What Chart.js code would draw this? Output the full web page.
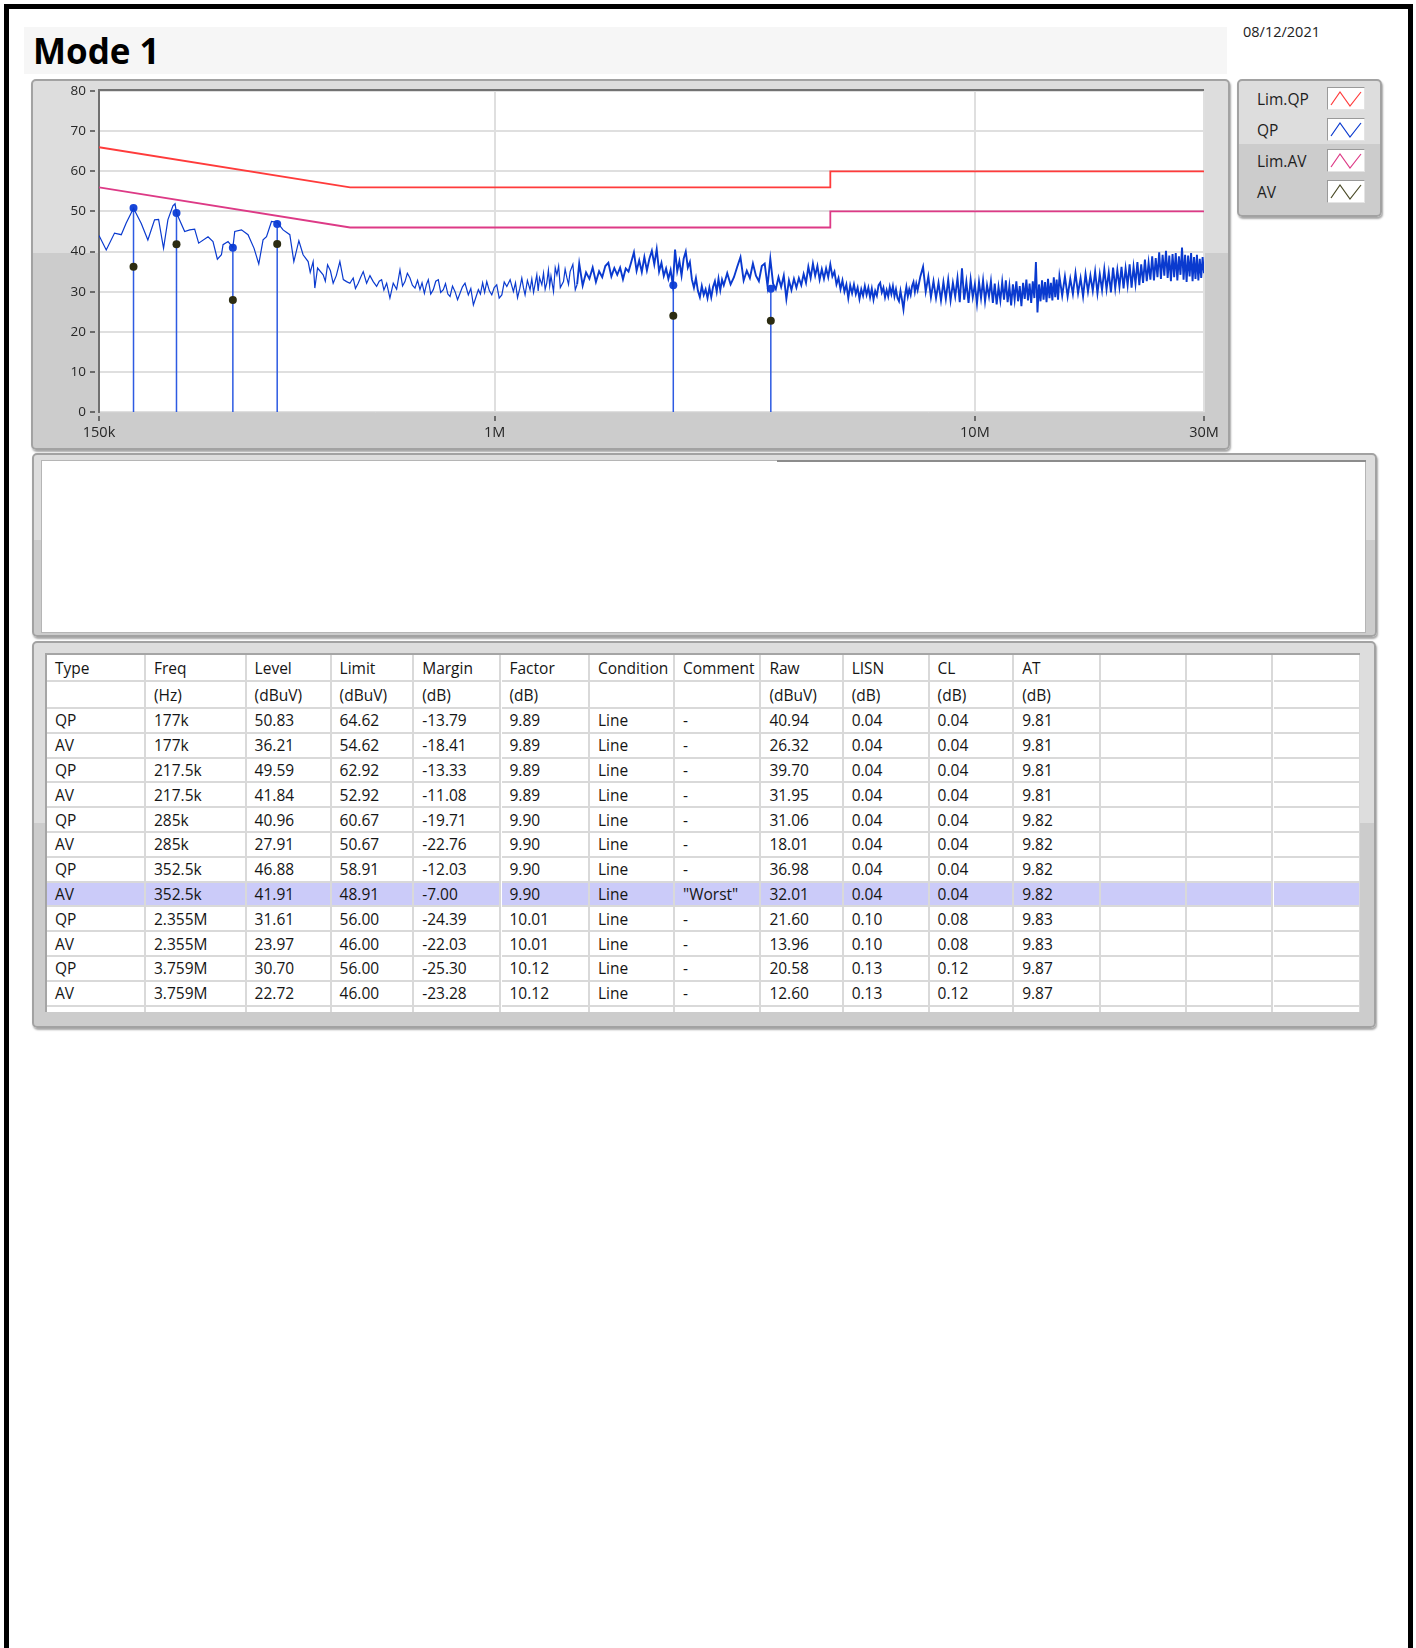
<!DOCTYPE html>
<html>
<head>
<meta charset="utf-8">
<script src="https://cdn.jsdelivr.net/npm/chart.js@4/dist/chart.umd.min.js"></script>
<style>
body { margin:0; background:#fff; font-family:'Open Sans', sans-serif; color:#151515; }
#page { position:relative; width:1416px; height:1648px; overflow:hidden; }
#frame { position:absolute; left:4px; top:4px; width:1399px; height:1700px; border:5px solid #000; border-bottom:none; }
#titleBox { position:absolute; left:24px; top:27px; width:1203px; height:47px; background:#f6f6f6; }
#title { position:absolute; left:33px; top:27px; font-size:35px; font-weight:700; color:#000; white-space:nowrap; }
#date { position:absolute; left:1243px; top:22px; font-size:14.5px; color:#222; }
.panel { position:absolute; box-sizing:border-box; border:2px solid #a2a2a2; border-radius:5px;
  background:linear-gradient(to bottom,#dddddd 0,#dddddd 47%,#cccccc 47%,#cccccc 100%);
  box-shadow:1px 2px 2px rgba(0,0,0,0.35); }
#chartCanvas { position:absolute; left:31px; top:79px; }
.leg { position:absolute; font-size:15.5px; color:#1e1e1e; white-space:nowrap; }
.legIcon { position:absolute; width:38px; height:23px; box-sizing:border-box; background:#fff;
  border:1px solid #9a9a9a; border-right-color:#e4e4e4; border-bottom-color:#e4e4e4; }
#tableInner { position:absolute; left:45px; top:653px; width:1315px; height:359px; box-sizing:border-box;
  background:#fff; border-top:2px solid #a5a5a5; border-left:2px solid #a5a5a5; overflow:hidden; }
.cell { position:absolute; box-sizing:border-box; border-right:2px solid #d9d9d9; border-bottom:2px solid #d9d9d9;
  padding-left:8px; font-size:15.5px; white-space:nowrap; overflow:hidden; display:flex; align-items:center; }
</style>
</head>
<body>
<div id="page">
  <div id="frame"></div>
  <div id="titleBox"></div>
  <div id="title">Mode 1</div>
  <div id="date">08/12/2021</div>

  <div class="panel" style="left:31px;top:79px;width:1199px;height:371px;"></div>
  <canvas id="chartCanvas" width="1199" height="371"></canvas>

  <div class="panel" id="legendPanel" style="left:1237px;top:79px;width:145px;height:138px;"></div>

  <div class="panel" style="left:32px;top:453px;width:1345px;height:184px;"></div>
  <div style="position:absolute;left:41px;top:460px;width:1325px;height:173px;background:#fff;box-sizing:border-box;border:1px solid #b5b5b5;"></div>
  <div style="position:absolute;left:777px;top:460px;width:589px;height:2px;background:#8c8c8c;"></div>

  <div class="panel" style="left:32px;top:641px;width:1344px;height:387px;"></div>
  <div id="tableInner"></div>
</div>

<script>
// axis ticks
var tickValues = [150000, 1000000, 10000000, 30000000];
var tickLabels = ['150k', '1M', '10M', '30M'];

// limit lines (Hz, dBuV)
var limitFreqs = [150000, 500000, 5000000, 5000000, 30000000];
var limQPLevels = [66, 56, 56, 60, 60];
var limAVLevels = [56, 46, 46, 50, 50];

// final measurements
var markFreqsHz = [177000, 217500, 285000, 352500, 2355000, 3759000];
var markFreqLabels = ['177k', '217.5k', '285k', '352.5k', '2.355M', '3.759M'];
var qpLevels = [50.83, 49.59, 40.96, 46.88, 31.61, 30.70];
var avLevels = [36.21, 41.84, 27.91, 41.91, 23.97, 22.72];
var qpLimits = [64.62, 62.92, 60.67, 58.91, 56.00, 56.00];
var avLimits = [54.62, 52.92, 50.67, 48.91, 46.00, 46.00];
var qpMargins = [-13.79, -13.33, -19.71, -12.03, -24.39, -25.30];
var avMargins = [-18.41, -11.08, -22.76, -7.00, -22.03, -23.28];
var factors = [9.89, 9.89, 9.90, 9.90, 10.01, 10.12];
var conditions = ['Line', 'Line', 'Line', 'Line', 'Line', 'Line'];
var qpComments = ['-', '-', '-', '-', '-', '-'];
var avComments = ['-', '-', '-', '"Worst"', '-', '-'];
var qpRaws = [40.94, 39.70, 31.06, 36.98, 21.60, 20.58];
var avRaws = [26.32, 31.95, 18.01, 32.01, 13.96, 12.60];
var lisnLoss = [0.04, 0.04, 0.04, 0.04, 0.10, 0.13];
var cableLoss = [0.04, 0.04, 0.04, 0.04, 0.08, 0.12];
var attenuator = [9.81, 9.81, 9.82, 9.82, 9.83, 9.87];

var colHeads = ['Type', 'Freq', 'Level', 'Limit', 'Margin', 'Factor', 'Condition', 'Comment', 'Raw', 'LISN', 'CL', 'AT', '', '', ''];
var colUnits = ['', '(Hz)', '(dBuV)', '(dBuV)', '(dB)', '(dB)', '', '', '(dBuV)', '(dB)', '(dB)', '(dB)', '', '', ''];

// QP scan trace, frequency in kHz
var scanKHz = [
  150,155.3,161.6,166.9,170.9,177,183.7,189.6,195.8,199.6,
  204.4,208.7,213.8,216,217.5,226.2,231.7,237.3,241.9,253,
  259.1,264.6,269.8,271.9,278.5,285,287.6,297,306.5,315.5,
  322.7,329.4,334.9,343,352.5,362.6,374.5,381.8,391.1,
  399.1,408.9,413,418.8,422.2,427.8,439.4,444,448.8,455,
  461,468,476.1,484,491.6,499.5,507.5,513,519.8,526,
  532.5,541.2,550,558.6,567.8,575,581.6,588,595.8,605.2,
  614.9,625,635.1,643,650.5,658,666.3,674,682.5,691,
  699,706,714,721,727.5,736,745.1,754,763.3,772,
  781.8,790,799,807.4,817,827,837,847,857,867.5,
  881.4,892,903,914,924.9,934,944,953,962.9,975,
  986.3,998,1010,1022,1035,1047,1060,1077,1094,1105,
  1116,1128,1139,1148,1157,1170,1185,1195,1205,1224,
  1232,1240,1254,1264,1274,1284,1294,1302,1310,1326,
  1337,1348,1359,1370,1391,1402,1413,1425,1436,1455,
  1463,1472,1485,
  1500,1525,1550,1575,1600,1625,1650,1675,1700,1725,
  1750,1775,1800,1825,1850,1875,1900,1925,1950,1975,
  2000,2025,2050,2075,2100,2125,2150,2175,2200,2225,
  2250,2275,2300,2325,2350,2375,2400,2425,2450,2475,
  2500,2525,2550,2575,2600,2625,2650,2675,2700,2725,
  2750,2775,2800,2825,2850,2875,2900,2925,2950,2975,
  3000,
  3050,3100,3150,3200,3250,3300,3350,3400,3450,3500,
  3550,3600,3650,3700,3750,3800,3850,3900,3950,4000,
  4050,4100,4150,4200,4250,4300,4350,4400,4450,4500,
  4550,4600,4650,4700,4750,4800,4850,4900,4950,5000,
  5050,5100,5150,5200,5250,5300,5350,5400,5450,5500,
  5550,5600,5650,5700,5750,5800,5850,5900,5950,6000,
  6050,6100,6150,6200,6250,6300,6350,6400,6450,6500,
  6550,6600,6650,6700,6750,6800,6850,6900,6950,7000,
  7050,7100,7150,7200,7250,7300,7350,7400,7450,7500,
  7550,7600,
  7700,7800,7900,8000,8100,8200,8300,8400,8500,8600,
  8700,8800,8900,9000,9100,9200,9300,9400,9500,9600,
  9700,9800,9900,10000,10100,10200,10300,10400,10500,10600,
  10700,10800,10900,11000,11100,11200,11300,11400,11500,11600,
  11700,11800,11900,12000,12100,12200,12300,12400,12500,12600,
  12700,12800,12900,13000,13100,13200,13300,13400,13500,13600,
  13700,13800,13900,14000,14100,14200,14300,14400,14500,14600,
  14700,14800,14900,15000,
  15200,15400,15600,15800,16000,16200,16400,16600,16800,17000,
  17200,17400,17600,17800,18000,18200,18400,18600,18800,19000,
  19200,19400,19600,19800,20000,20200,20400,20600,20800,21000,
  21200,21400,21600,21800,22000,22200,22400,22600,22800,23000,
  23200,23400,23600,23800,24000,24200,24400,24600,24800,25000,
  25200,25400,25600,25800,26000,26200,26400,26600,26800,27000,
  27200,27400,27600,27800,28000,28200,28400,28600,28800,29000,
  29200,29400,29600,29800,30000
];
var scanQP = [
  44.0,40.4,44.6,44.2,47.1,50.8,47.0,42.9,47.9,48.0,
  40.8,47.9,51.4,51.9,49.6,45.0,45.4,45.6,42.1,43.7,
  42.5,38.1,39.2,41.7,42.5,41.0,45.0,45.4,44.2,40.8,
  36.9,42.9,43.7,47.5,47.3,45.4,44.2,37.5,42.7,
  39.2,37.5,34.8,37.5,30.9,35.9,34.2,32.6,36.7,35.2,
  32.1,34.0,37.5,33.0,32.5,32.1,33.4,30.8,32.1,33.6,
  35.0,32.1,34.0,32.5,31.3,32.6,33.0,30.4,32.1,28.4,
  32.1,30.6,35.4,31.4,32.5,34.6,33.4,31.6,30.9,32.8,
  30.5,32.2,29.6,31.8,33.0,29.4,30.5,32.6,33.0,29.8,
  30.5,32.0,29.4,28.8,31.4,30.0,28.0,29.6,31.2,32.1,
  29.2,30.8,26.7,28.6,30.5,29.4,32.2,29.8,32.5,30.2,
  29.2,31.0,31.7,28.4,29.2,32.4,31.3,33.0,30.0,32.2,
  28.5,30.8,33.4,31.0,29.2,32.8,30.5,33.2,29.8,34.2,
  30.2,33.5,31.7,34.6,30.6,32.2,35.4,31.4,33.9,30.0,
  36.0,34.2,36.4,31.0,32.5,35.6,33.6,31.8,35.0,36.8,
  33.6,30.5,31.8,
  37.0,31.5,34.8,33.2,36.0,32.4,35.1,33.6,36.4,37.2,
  33.8,35.9,34.2,36.0,33.1,35.8,35.0,37.4,39.8,35.2,
  37.8,34.9,38.6,35.3,38.2,40.2,36.8,40.6,35.0,37.2,
  33.9,35.8,33.2,35.4,31.6,40.5,35.1,37.6,34.0,38.2,
  40.0,36.0,37.4,33.0,31.0,33.4,30.2,28.6,31.4,29.2,
  30.6,28.4,31.0,28.6,31.2,32.6,30.0,33.2,30.4,33.0,
  31.6,
  34.6,31.8,33.6,36.2,38.6,32.8,35.2,33.4,37.0,34.0,
  32.6,36.4,37.0,31.4,38.2,32.0,30.6,33.6,31.2,34.0,
  28.2,32.8,30.4,33.2,31.0,33.4,31.6,34.4,32.2,36.2,
  33.4,37.0,34.0,36.4,33.0,35.6,33.2,35.8,33.6,36.8,
  33.8,35.0,31.8,33.4,30.6,32.8,30.0,31.8,28.4,31.6,
  29.6,31.8,29.4,31.0,28.2,30.6,29.0,31.4,29.2,31.0,
  28.6,30.8,28.0,30.2,29.0,31.6,32.2,29.8,31.0,28.6,
  30.4,28.8,31.2,29.4,31.4,28.8,30.6,28.4,27.6,30.2,
  28.0,25.6,29.0,31.2,28.8,30.6,29.2,31.4,32.4,30.0,
  32.0,30.4,
  33.8,36.2,30.0,33.8,28.6,32.6,28.4,32.2,27.8,32.4,
  28.2,33.0,27.8,32.2,28.8,33.4,27.4,35.8,28.0,32.4,
  27.2,33.0,28.6,31.8,27.0,32.4,28.4,32.8,27.6,31.6,
  28.8,32.6,27.2,32.0,26.8,31.2,27.8,32.4,28.0,32.8,
  27.4,31.4,26.6,31.8,28.0,32.6,27.6,31.4,26.4,32.2,
  28.2,33.0,27.8,32.0,27.2,32.6,28.4,37.4,24.8,31.8,
  27.6,32.8,28.0,32.4,27.4,33.2,28.4,32.2,27.8,33.6,
  28.6,33.0,28.0,33.8,
  29.0,33.8,28.8,33.2,29.4,34.6,29.6,33.4,28.8,34.4,
  30.0,34.0,30.2,35.0,29.6,34.4,30.4,35.6,30.6,34.8,
  29.8,36.0,30.8,35.4,31.2,36.2,30.8,35.8,31.6,36.8,
  31.0,36.2,32.0,37.4,31.6,36.8,32.2,38.0,32.6,37.2,
  33.0,38.8,32.8,38.4,33.6,39.8,33.2,39.2,34.0,40.2,
  33.4,39.0,32.6,39.4,33.6,39.6,32.8,38.8,34.2,41.0,
  33.0,39.2,32.4,39.0,33.8,39.6,32.6,38.6,33.2,39.2,
  32.8,38.2,33.4,38.6,34.6
];

var legendOrder = ['Lim.QP', 'QP', 'Lim.AV', 'AV'];

// datasets
var traceData = scanKHz.map(function (f, i) { return { x: f * 1000, y: scanQP[i] }; });
var stemData = [];
markFreqsHz.forEach(function (f, i) {
  stemData.push({ x: f, y: 0 }, { x: f, y: qpLevels[i] }, { x: f, y: null });
});

var plotFrame = {
  id: 'plotFrame',
  beforeDraw: function (chart) {
    var a = chart.chartArea, ctx = chart.ctx;
    ctx.save();
    ctx.fillStyle = '#ffffff';
    ctx.fillRect(a.left, a.top, a.right - a.left, a.bottom - a.top);
    ctx.restore();
  },
  afterDraw: function (chart) {
    var a = chart.chartArea, ctx = chart.ctx;
    ctx.save();
    ctx.strokeStyle = '#727272';
    ctx.lineWidth = 2;
    ctx.beginPath();
    ctx.moveTo(a.left - 1, a.top - 1);
    ctx.lineTo(a.right, a.top - 1);
    ctx.stroke();
    ctx.restore();
  }
};

var chart = new Chart(document.getElementById('chartCanvas'), {
  type: 'line',
  data: {
    datasets: [
      {
        label: 'QP',
        data: traceData,
        borderColor: '#0a3acf', borderWidth: 1.2, pointRadius: 0, tension: 0,
        segment: {
          borderWidth: function (ctx) { return ctx.p0.parsed.x >= 1480000 ? 1.9 : 1.2; }
        }
      },
      {
        label: 'QP peaks',
        data: markFreqsHz.map(function (f, i) { return { x: f, y: qpLevels[i] }; }),
        showLine: false, pointRadius: 4, pointBorderWidth: 0,
        pointBackgroundColor: '#1746d9', borderColor: '#1746d9'
      },
      {
        label: 'AV',
        data: markFreqsHz.map(function (f, i) { return { x: f, y: avLevels[i] }; }),
        showLine: false, pointRadius: 4, pointBorderWidth: 0,
        pointBackgroundColor: '#2c2c12', borderColor: '#4a4a26'
      },
      {
        label: 'stems',
        data: stemData,
        borderColor: '#2d5ae2', borderWidth: 1.5, pointRadius: 0, spanGaps: false
      },
      {
        label: 'Lim.QP',
        data: limitFreqs.map(function (f, i) { return { x: f, y: limQPLevels[i] }; }),
        borderColor: '#ff3b3b', borderWidth: 1.8, pointRadius: 0
      },
      {
        label: 'Lim.AV',
        data: limitFreqs.map(function (f, i) { return { x: f, y: limAVLevels[i] }; }),
        borderColor: '#dd3a86', borderWidth: 1.8, pointRadius: 0
      }
    ]
  },
  options: {
    responsive: false,
    animation: false,
    events: [],
    layout: { padding: { left: 0, right: 26, top: 12, bottom: 0 } },
    plugins: { legend: { display: false }, tooltip: { enabled: false } },
    scales: {
      x: {
        type: 'logarithmic',
        min: 150000,
        max: 30000000,
        afterBuildTicks: function (s) { s.ticks = tickValues.map(function (v) { return { value: v }; }); },
        afterFit: function (s) { s.height = 38; },
        ticks: {
          autoSkip: false, maxRotation: 0, padding: 3, color: '#262626',
          font: { family: 'Open Sans', size: 14.5 },
          callback: function (v) { return tickLabels[tickValues.indexOf(v)]; }
        },
        grid: {
          color: '#dfdfdf', lineWidth: 2, tickLength: 9, tickColor: '#4a4a4a', tickWidth: 1.5,
          tickBorderDash: [6, 3], tickBorderDashOffset: 6
        },
        border: { color: '#d0d0d0', width: 1 }
      },
      y: {
        min: 0,
        max: 80,
        afterFit: function (s) { s.width = 68; },
        ticks: { stepSize: 10, padding: 4, color: '#262626', font: { family: 'Open Sans', size: 13.5 } },
        grid: {
          color: '#dfdfdf', lineWidth: 2, tickLength: 9, tickColor: '#4a4a4a', tickWidth: 1.5,
          tickBorderDash: [5, 4]
        },
        border: { color: '#707070', width: 2 }
      }
    }
  },
  plugins: [plotFrame]
});

// legend panel built from the chart datasets
var page = document.getElementById('page');
legendOrder.forEach(function (name, i) {
  var ds = chart.data.datasets.find(function (d) { return d.label === name; });
  var cy = 99 + i * 31;
  var t = document.createElement('div');
  t.className = 'leg';
  t.textContent = name;
  t.style.left = '1257px';
  t.style.top = (cy - 11) + 'px';
  page.appendChild(t);
  var box = document.createElement('div');
  box.className = 'legIcon';
  box.style.left = '1327px';
  box.style.top = (cy - 12) + 'px';
  box.innerHTML = '<svg width="36" height="21"><polyline points="3,17 12,4 22,18 33,4" fill="none" stroke="' +
    ds.borderColor + '" stroke-width="1.2"/></svg>';
  page.appendChild(box);
});

// results table
var colX = [0, 99, 199.6, 284.6, 367.2, 454.5, 543, 628, 714.4, 796.7, 882.6, 967.2, 1054, 1139.6, 1226.5, 1314];
var tableRows = [colHeads, colUnits];
markFreqsHz.forEach(function (f, i) {
  tableRows.push(['QP', markFreqLabels[i], qpLevels[i].toFixed(2), qpLimits[i].toFixed(2), qpMargins[i].toFixed(2),
    factors[i].toFixed(2), conditions[i], qpComments[i], qpRaws[i].toFixed(2), lisnLoss[i].toFixed(2),
    cableLoss[i].toFixed(2), attenuator[i].toFixed(2), '', '', '']);
  tableRows.push(['AV', markFreqLabels[i], avLevels[i].toFixed(2), avLimits[i].toFixed(2), avMargins[i].toFixed(2),
    factors[i].toFixed(2), conditions[i], avComments[i], avRaws[i].toFixed(2), lisnLoss[i].toFixed(2),
    cableLoss[i].toFixed(2), attenuator[i].toFixed(2), '', '', '']);
});
tableRows.push(colHeads.map(function () { return ''; }));

var tbl = document.getElementById('tableInner');
var y = 0;
tableRows.forEach(function (row, r) {
  var h = r < 2 ? 27 : 24.8;
  var worst = row[7] === '"Worst"';
  row.forEach(function (txt, c) {
    var d = document.createElement('div');
    d.className = 'cell';
    d.style.left = colX[c] + 'px';
    d.style.top = y + 'px';
    d.style.width = (colX[c + 1] - colX[c]) + 'px';
    d.style.height = h + 'px';
    if (worst) d.style.background = '#cbcbf9';
    d.textContent = txt;
    tbl.appendChild(d);
  });
  y += h;
});
</script>
</body>
</html>
